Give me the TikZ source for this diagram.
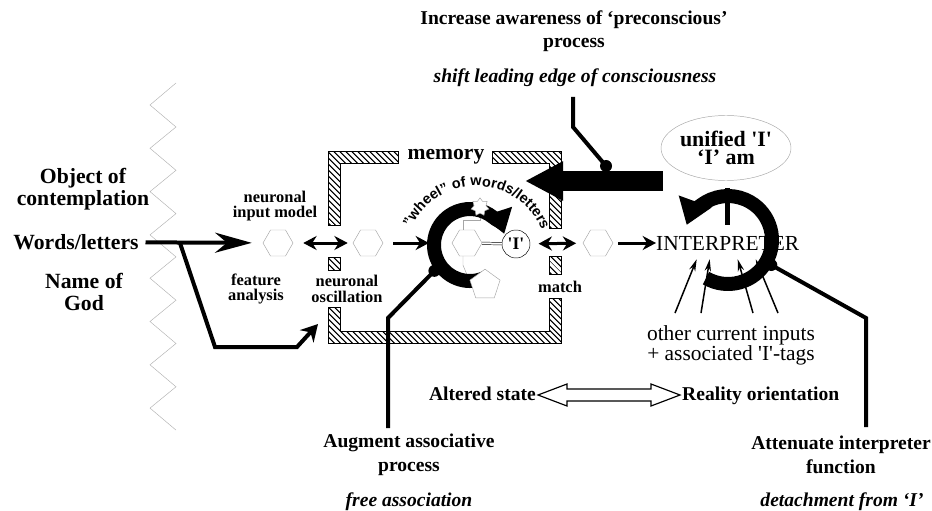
\documentclass[tikz,border=0pt]{standalone}
\usepackage{fontspec}
\setmainfont{Liberation Serif}
\setsansfont{Liberation Sans}
\usetikzlibrary{arrows.meta,positioning,shapes.geometric,patterns.meta,decorations.text,calc}
\newcommand{\sq}{\textquotesingle}

\begin{document}
\begin{tikzpicture}[x=0.03cm, y=0.03cm,
  side/.style={font=\bfseries\fontsize{18.5}{19}\selectfont, align=center, inner sep=0pt},
  lbl/.style={font=\bfseries\fontsize{16.7}{20}\selectfont, align=center, inner sep=0pt},
  ital/.style={font=\bfseries\itshape\fontsize{16.7}{20}\selectfont, inner sep=0pt},
  note/.style={font=\bfseries\fontsize{14}{13}\selectfont, align=center, inner sep=0pt},
  plain/.style={font=\fontsize{18.3}{17}\selectfont, align=center, inner sep=0pt},
  hexa/.style={regular polygon, regular polygon sides=6, draw=gray!70, thin, minimum size=0.9cm, inner sep=0pt},
  band/.style={draw=black, line width=0.3mm, pattern={Lines[angle=-45,distance=4pt,line width=1.3pt]}},
  ar/.style={-{Stealth[length=4mm,width=4.2mm]}, line width=0.9mm},
  dar/.style={{Stealth[length=4mm,width=4.2mm]}-{Stealth[length=4mm,width=4.2mm]}, line width=0.9mm},
  inp/.style={-{Stealth[length=3.6mm,width=1.9mm]}, line width=0.45mm},
  wheel/.style={line width=4.2mm},
  lever/.style={line width=1.2mm},
  knob/.style={fill=black, circle, inner sep=0pt, minimum size=3.6mm},
]
\useasboundingbox (0,0) rectangle (932,-511);

% zigzag edge
\draw[gray!60, thin] (176,-83) \foreach \k in {0,...,7}{ -- (150,{-105-43.3*\k}) -- (176,{-127-43.3*\k}) };

% left labels
\node[side] (obj)   at (83,-189) {Object of\\contemplation};
\node[side] (words) at (76,-242) {Words/letters};
\node[side] (god)   at (84,-292) {Name of\\God};

% top labels
\node[lbl]  (incr)  at (574,-31) {Increase awareness of ‘preconscious’\\process};
\node[ital] (shift) at (575,-78) {shift leading edge of consciousness};

% memory frame
\draw[band] (328,-152) -- (398,-152) -- (398,-164) -- (340,-164) -- (340,-225) -- (328,-225) -- cycle;
\draw[band] (492,-152) -- (561,-152) -- (561,-228) -- (549,-228) -- (549,-164) -- (492,-164) -- cycle;
\draw[band] (328,-257) rectangle (340,-270);
\draw[band] (549,-256) rectangle (561,-274);
\draw[band] (328,-307) -- (340,-307) -- (340,-331) -- (549,-331) -- (549,-298) -- (561,-298) -- (561,-343) -- (328,-343) -- cycle;
\node[lbl, font=\bfseries\fontsize{18.4}{20}\selectfont] (mem) at (446,-157) {memory};

% small labels
\node[note] (nim) at (275,-206) {neuronal\\input model};
\node[note] (fan) at (256,-289) {feature\\analysis};
\node[note] (nos) at (347,-289) {neuronal\\oscillation};
\node[note] (mat) at (560,-287) {match};

% hexagons and 'I'
\node[hexa] (hexA) at (278,-243) {};
\node[hexa] (hexB) at (368,-243) {};
\node[hexa] (hexC) at (467,-243) {};
\node[hexa] (hexD) at (598,-243) {};
\node[draw, circle, thin, minimum size=0.84cm, inner sep=0pt,
      font=\bfseries\fontsize{15}{15}\selectfont] (iw) at (516,-244) {\sq I\sq};
\node[plain, anchor=west] (interp) at (656,-243) {INTERPRETER};

% input path
\coordinate (fork)  at (180,-243);
\coordinate (oscin) at (318,-324);
\coordinate (wc)    at (470,-245);
\coordinate (wl)    at (429,-243);
\draw[line width=1.2mm, -{Stealth[length=1.1cm,width=0.6cm]}, shorten <=0.2cm, shorten >=0.33cm] (words) -- (hexA);
\draw[line width=1.2mm, -{Stealth[length=0.5cm,width=0.55cm]}] (fork) -- (215,-347) -- (297,-347) -- (oscin);
\draw[dar, shorten <=0.3cm, shorten >=0.15cm] (hexA) -- (hexB);
\draw[ar, shorten <=0.3cm] (hexB) -- (wl);
\draw[double, double distance=0.6mm, thin] (hexC) -- (iw);
\draw[dar, shorten <=0.25cm, shorten >=0.2cm] (iw) -- (hexD);
\draw[ar, shorten <=0.15cm] (hexD) -- (interp);

% wheel of words/letters
\node[star, star points=7, star point ratio=1.5, minimum size=0.55cm, inner sep=0pt] (burst) at (480,-207) {};
\node[regular polygon, regular polygon sides=5, minimum size=0.95cm, inner sep=0pt] (pent) at (485,-285) {};
\draw[gray!70] ($(hexC.north)+(-4,0)$) -- ++(0,10) -| (burst.south);
\draw[gray!70] ($(hexC.south)+(-4,0)$) -- ++(0,-9) -- (pent.west);
\draw[wheel, -{Triangle[length=0.7cm,width=0.9cm]}] ($(wc)+(298:36)$) arc[start angle=298, end angle=18, radius=36];
\node[star, star points=7, star point ratio=1.5, draw=gray!70, fill=white, thin, minimum size=0.55cm, inner sep=0pt] at (burst) {};
\node[regular polygon, regular polygon sides=5, draw=gray!70, fill=white, thin, minimum size=0.95cm, inner sep=0pt] at (pent) {};
\path[decorate, decoration={text along path, text align=center,
  text={|\sffamily\bfseries\fontsize{12.3}{12}\selectfont|"wheel" of words/letters}}]
  ($(wc)+(6,-12)+(162:71)$) arc[start angle=162, end angle=16, radius=71];
\node[knob] (wk) at ($(wc)+(216:44)$) {};
\coordinate (augtop) at (388,-428);
\draw[lever] (wk.center) -- (388,-318) -- (augtop);

% push from above
\coordinate (barR) at (663,-181);
\coordinate (barL) at (525,-181);
\draw[line width=6mm, -{Triangle[length=1.14cm,width=1.1cm]}] (barR) -- (barL);
\coordinate (ltop) at (573,-97);
\node[knob] (tk) at (606,-166) {};
\draw[lever] (ltop) -- (573,-127) -- (tk.center);

% interpreter
\node[ellipse, draw=gray!70, thin, minimum width=3.45cm, minimum height=1.95cm, inner sep=0pt,
      align=center, font=\bfseries\fontsize{18.7}{16}\selectfont] (uni) at (726,-148) {unified \sq I\sq\\‘I’ am};
\coordinate (ic) at (728,-240);
\draw[wheel, -{Triangle[length=0.75cm,width=1cm]}] ($(ic)+(-120:44)$) arc[start angle=-120, end angle=160, radius=44];
\draw[line width=1.5mm] ($(ic)+(-1,52)$) -- ($(ic)+(-1,15)$);
\node[plain] (others) at (731,-345) {other current inputs\\+ associated \sq I\sq-tags};
\foreach \a/\b in {-56/-31, -30/-18, 22/10, 47/28}
  \draw[inp] ($(others.north)+(\a,12)$) -- ($(interp.south)+(\b,-9)$);
\node[knob] (ik) at ($(ic)+(-30:50)$) {};
\coordinate (atttop) at (866,-427);
\draw[lever] (ik.center) -- (866,-318) -- (atttop);

% state axis
\node[lbl, anchor=base east] (alt)  at (536,-400) {Altered state};
\node[lbl, anchor=base west] (real) at (682,-400) {Reality orientation};
\coordinate (altT)  at ($(alt.base east)+(2,5)$);
\coordinate (realT) at ($(real.base west)+(-2,5)$);
\draw[line width=0.35mm, fill=white] (altT) -- ++(29,11) -- ++(0,-5) -- ($(realT)+(-29,6)$) -- ++(0,5)
  -- (realT) -- ++(-29,-11) -- ++(0,5) -- ($(altT)+(29,-6)$) -- ++(0,-5) -- cycle;

% bottom labels
\node[lbl]  (aug)  at (409,-455) {Augment associative\\process};
\node[ital] (free) at (409,-502) {free association};
\node[lbl]  (att)  at (841,-455) {Attenuate interpreter\\function};
\node[ital] (det)  at (842,-502) {detachment from ‘I’};

\end{tikzpicture}
\end{document}
